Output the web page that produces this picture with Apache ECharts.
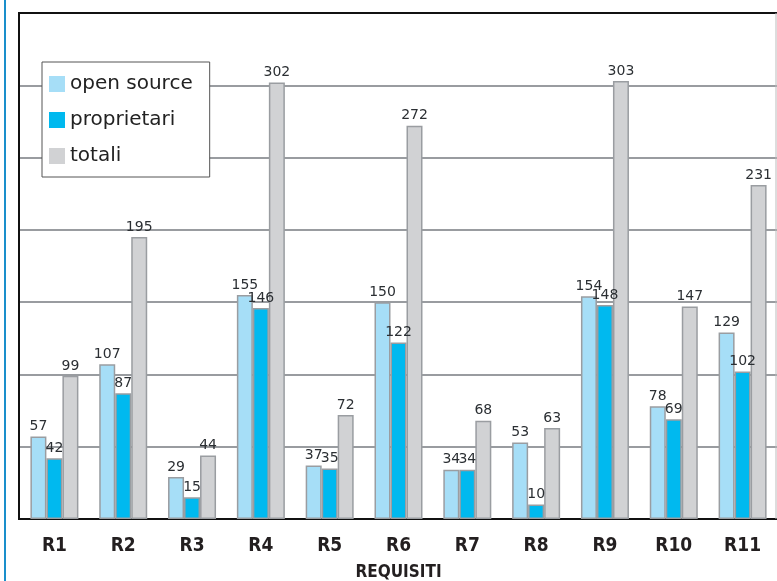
<!DOCTYPE html>
<html>
<head>
<meta charset="utf-8">
<script src="https://cdn.jsdelivr.net/npm/echarts@6/dist/echarts.min.js"></script>
<style>
  html, body { margin: 0; padding: 0; background: #fff; }
  #chart { width: 777px; height: 581px; }
</style>
</head>
<body>
<div id="chart"></div>
<script>
var categories = ['R1', 'R2', 'R3', 'R4', 'R5', 'R6', 'R7', 'R8', 'R9', 'R10', 'R11']
var openSource = [57, 107, 29, 155, 37, 150, 34, 53, 154, 78, 129]
var proprietari = [42, 87, 15, 146, 35, 122, 34, 10, 148, 69, 102]
var totali = [99, 195, 44, 302, 72, 272, 68, 63, 303, 147, 231]

var labelStyle = {
  show: true,
  position: 'top',
  distance: 3,
  color: '#2b2f33',
  fontFamily: 'DejaVu Sans',
  fontSize: 14
}

function barSeries(name, data) {
  return {
    name: name,
    type: 'bar',
    data: data,
    barWidth: 16,
    barGap: '0%',
    itemStyle: {
      borderColor: '#9a9da1',
      borderWidth: 1.5
    },
    label: labelStyle
  }
}

var chart = echarts.init(document.getElementById('chart'))
chart.setOption({
  animation: false,
  color: ['#a6def7', '#00b9ef', '#d1d2d4'],
  grid: {
    left: 20,
    top: 13,
    width: 757,
    height: 506,
    outerBoundsMode: 'none',
    containLabel: false
  },
  legend: {
    orient: 'vertical',
    left: 42,
    top: 62,
    padding: [12, 17, 11, 7],
    itemWidth: 16,
    itemHeight: 16,
    itemGap: 16,
    backgroundColor: '#fff',
    borderColor: '#555',
    borderWidth: 1,
    borderRadius: 0,
    icon: 'rect',
    itemStyle: { borderWidth: 0 },
    textStyle: {
      color: '#222',
      fontFamily: 'DejaVu Sans',
      fontSize: 20
    },
    data: ['open source', 'proprietari', 'totali']
  },
  xAxis: {
    type: 'category',
    data: categories,
    name: 'REQUISITI',
    nameLocation: 'middle',
    nameGap: 45,
    nameTextStyle: {
      color: '#231f20',
      fontFamily: 'DejaVu Sans Condensed',
      fontWeight: 'bold',
      fontSize: 17
    },
    axisLine: { lineStyle: { color: '#111', width: 2 } },
    axisTick: { show: false },
    axisLabel: {
      margin: 18,
      color: '#231f20',
      fontFamily: 'DejaVu Sans Condensed',
      fontWeight: 'bold',
      fontSize: 19
    }
  },
  yAxis: {
    type: 'value',
    min: 0,
    max: 350,
    interval: 50,
    axisLine: { show: false },
    axisTick: { show: false },
    axisLabel: { show: false },
    splitLine: { lineStyle: { color: '#999ca0', width: 2 } }
  },
  graphic: [
    // blue page rule on the left
    { type: 'line', shape: { x1: 5, y1: 0, x2: 5, y2: 581 }, style: { stroke: '#1a8fcb', lineWidth: 2 }, z: 10 },
    // black frame left + top, gray right
    { type: 'line', shape: { x1: 19, y1: 12, x2: 19, y2: 520 }, style: { stroke: '#111', lineWidth: 2 }, z: 10 },
    { type: 'line', shape: { x1: 18, y1: 13, x2: 777, y2: 13 }, style: { stroke: '#111', lineWidth: 2 }, z: 10 },
    { type: 'line', shape: { x1: 776, y1: 13, x2: 776, y2: 519 }, style: { stroke: '#bbb', lineWidth: 1 }, z: 10 }
  ],
  series: [
    barSeries('open source', openSource),
    barSeries('proprietari', proprietari),
    barSeries('totali', totali)
  ]
})
</script>
</body>
</html>
